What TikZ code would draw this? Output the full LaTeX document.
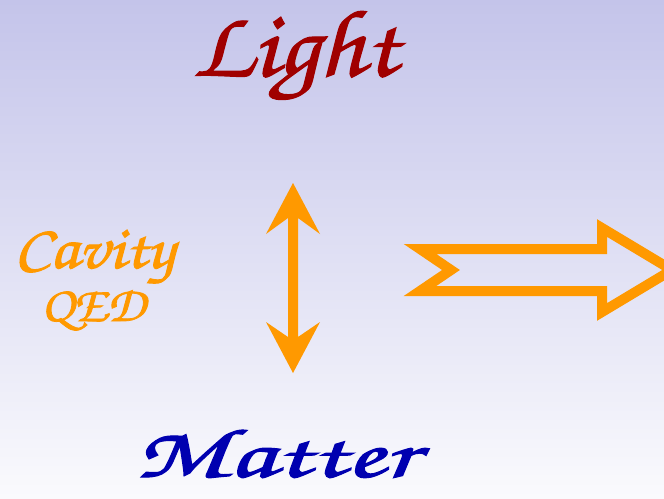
\documentclass[tikz,border=0pt]{standalone}
\usepackage[T1]{fontenc}
\usepackage{graphicx}
\definecolor{bgtop}{RGB}{196,196,234}
\definecolor{bgbot}{RGB}{250,250,253}
\definecolor{lightred}{RGB}{160,0,0}
\definecolor{matterblue}{RGB}{0,0,176}
\definecolor{qedorange}{RGB}{255,153,0}
\newcommand{\chanc}{\usefont{T1}{pzc}{mb}{it}}
\newcommand{\heavy}[2]{\special{pdf:literal direct 2 Tr #1 w}#2\special{pdf:literal direct 0 Tr}}
\tikzset{
  word/.style={anchor=base, inner sep=0pt, outer sep=0pt},
  thickarrow/.style={fill=qedorange, draw=none},
  outlinearrow/.style={draw=qedorange, line width=10pt, miter limit=10, line join=miter}
}
\begin{document}
\begin{tikzpicture}[x=1pt,y=-1pt]
\useasboundingbox (0,0) rectangle (664,498);
\shade[top color=bgtop, bottom color=bgbot] (0,0) rectangle (664,498);
\node[word, text=lightred] (light) at (295,76) {\resizebox{205pt}{68pt}{\chanc\heavy{0.12}{Light}}};
\node[word, text=qedorange] (cavity) at (94,268) {\resizebox{160pt}{38pt}{\chanc\heavy{0.15}{Cavity}}};
\node[word, text=qedorange] (qed) at (93,321) {\resizebox{104pt}{33pt}{\chanc\heavy{0.15}{QED}}};
\node[word, text=matterblue] (matter) at (276,477) {\resizebox{282pt}{50pt}{\chanc\heavy{0.15}{Matter}}};
\fill[thickarrow] (293,183) -- (320,234) -- (298,218) -- (298,337) -- (320,322) -- (293,373)
  -- (266,322) -- (288,337) -- (288,218) -- (266,234) -- cycle;
\draw[outlinearrow] (420,249) -- (602,249) -- (602,228) -- (672,270) -- (602,312) -- (602,291)
  -- (420,291) -- (451,270) -- cycle;
\end{tikzpicture}
\end{document}
